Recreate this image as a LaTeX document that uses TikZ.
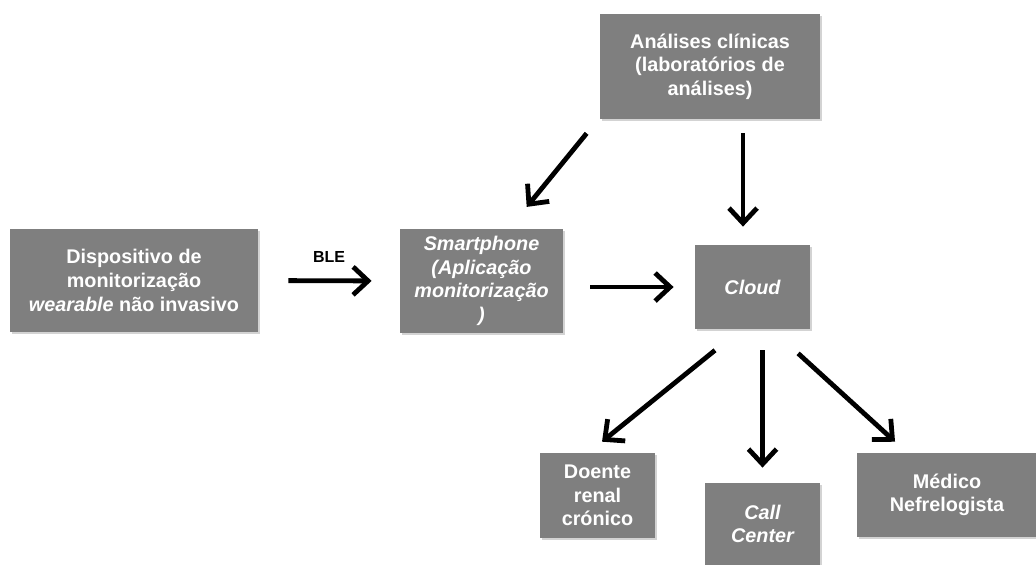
\documentclass[tikz,border=0pt]{standalone}
\usepackage{fontspec}
\setmainfont{Liberation Sans}
\usetikzlibrary{arrows.meta, shadows}
\definecolor{boxgray}{HTML}{7F7F7F}

\begin{document}
\begin{tikzpicture}[x=0.5pt, y=-0.5pt]
    \tikzstyle{box} = [fill=boxgray, text=white, font=\fontsize{9.9}{11.8}\selectfont\bfseries, align=center, inner sep=0pt, drop shadow={shadow xshift=1pt, shadow yshift=-1.2pt, opacity=0.35}];
    \tikzstyle{arrow} = [line width=2.4pt, -{Straight Barb[length=7.5pt, width=14pt]}];

    \useasboundingbox (0, 0) rectangle (1036, 564);

    \node[box, minimum width=124pt, minimum height=51.5pt] at (134, 280.5) (dev) {Dispositivo de\\monitorização\\\emph{wearable} não invasivo};
    \node[box, minimum width=81.5pt, minimum height=52pt] at (481.5, 281) (phone) {\itshape Smartphone\\\itshape (Aplicação\\\itshape monitorização\\\itshape )};
    \node[box, minimum width=57.5pt, minimum height=42pt] at (752.5, 287) (cloud) {\itshape Cloud};
    \node[box, minimum width=110pt, minimum height=52.5pt] at (710, 66.5) (lab) {Análises clínicas\\(laboratórios de\\análises)};

    \node[box, minimum width=57.5pt, minimum height=42.5pt] at (597.5, 495.5) (doente) {Doente\\renal\\crónico};
    \node[box, minimum width=57.5pt, minimum height=41pt] at (762.5, 524) (call) {\itshape Call\\\itshape Center};
    \node[box, minimum width=90pt, minimum height=42pt] at (947, 495) (medico) {Médico\\Nefrelogista};

    \draw[arrow, shorten <=15pt, shorten >=14pt] (dev.east) -- node[above=4.5pt, text=black, font=\fontsize{8}{9}\selectfont\bfseries] (ble) {BLE} (phone.west);
    \draw[arrow, shorten <=13.5pt, shorten >=10.5pt] (phone.east |- cloud.west) -- (cloud.west);

    \draw[arrow, shorten <=9pt, shorten >=14pt] ([xshift=-56pt]lab.south) -- ([xshift=13.75pt]phone.north);
    \draw[arrow, shorten <=7pt, shorten >=9pt] ([xshift=16.5pt]lab.south) -- ([xshift=16.5pt]lab.south |- cloud.north);

    \draw[arrow, shorten <=16.6pt, shorten >=8.7pt] ([xshift=-5.85pt]cloud.south) -- ([xshift=-4.5pt]doente.north);
    \draw[arrow, shorten <=10.5pt, shorten >=7.5pt] (call.north |- cloud.south) -- (call.north);
    \draw[arrow, shorten <=17.8pt, shorten >=8.1pt] ([xshift=9.65pt]cloud.south) -- ([xshift=-20pt]medico.north);
\end{tikzpicture}
\end{document}
